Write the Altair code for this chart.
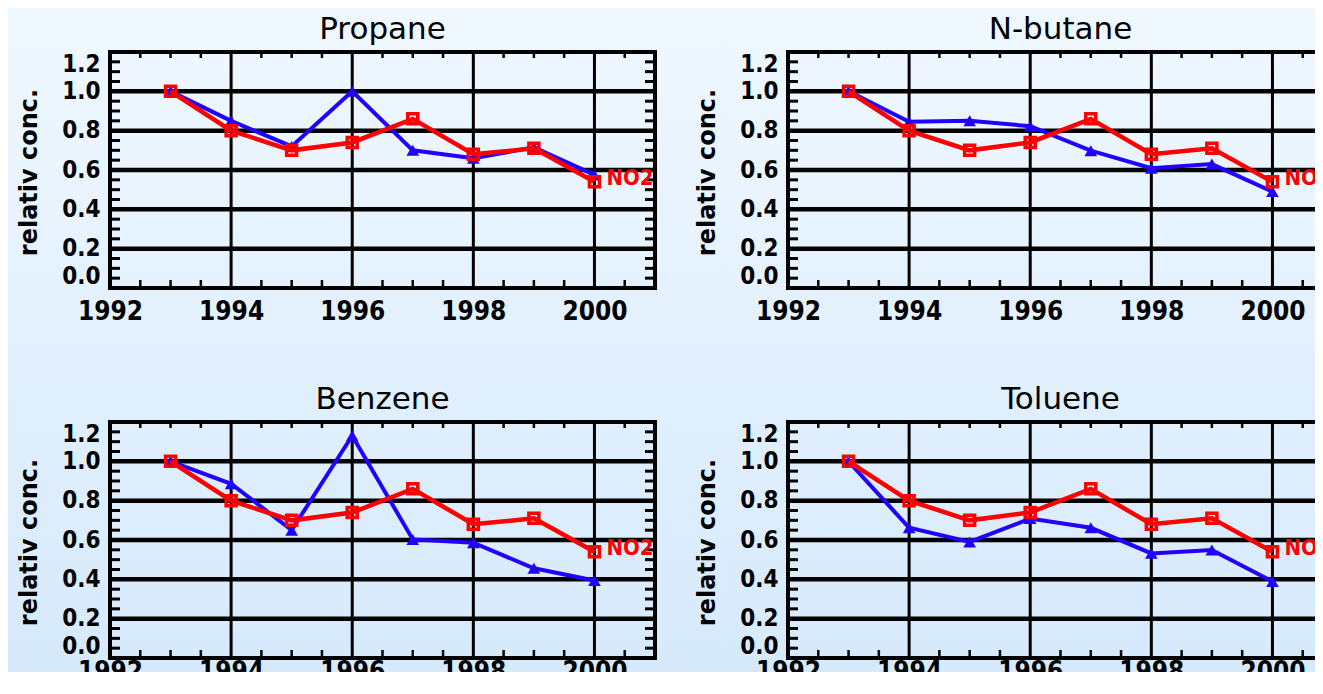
import altair as alt
import pandas as pd

# ---------------- data ----------------
years = [1993, 1994, 1995, 1996, 1997, 1998, 1999, 2000]
no2 = [1.00, 0.80, 0.70, 0.74, 0.86, 0.68, 0.71, 0.54]
propane = [1.00, 0.85, 0.72, 1.00, 0.70, 0.66, 0.715, 0.575]
nbutane = [1.00, 0.845, 0.85, 0.823, 0.698, 0.609, 0.63, 0.49]
benzene = [1.00, 0.886, 0.65, 1.13, 0.603, 0.586, 0.456, 0.394]
toluene = [1.00, 0.662, 0.59, 0.709, 0.662, 0.532, 0.549, 0.389]

panel_titles = ["Propane", "N-butane", "Benzene", "Toluene"]
no2_label = "NO2"
y_title = "relativ conc."

x_tick_labels = [1992, 1994, 1996, 1998, 2000]
y_tick_labels = [0.0, 0.2, 0.4, 0.6, 0.8, 1.0, 1.2]
x_grid = [1994, 1996, 1998, 2000]
y_grid = [0.2, 0.4, 0.6, 0.8, 1.0]
x_minor = [1992.5, 1993, 1993.5, 1994.5, 1995, 1995.5, 1996.5, 1997, 1997.5,
           1998.5, 1999, 1999.5, 2000.5]
y_minor = [0.05, 0.10, 0.15, 0.25, 0.30, 0.35, 0.45, 0.50, 0.55, 0.65, 0.70,
           0.75, 0.85, 0.90, 0.95, 1.05, 1.10, 1.15]

# ---------------- styling ----------------
BLUE = "#2200ff"
RED = "#ff0000"
LABEL_FONT = "DejaVu Sans Condensed"
TITLE_FONT = "DejaVu Sans"
NO2_FONT = "DejaVu Sans Condensed"
H = 236
W = 545

C_TOP = "#f0f8ff"
C_MID = "#e2f0fd"
C_BOT = "#d5e9fc"


def make_panel(title, series, bg_x, bg_y, stops, xpad):
    xs = alt.Scale(domain=[1992, 2001], nice=False, zero=False)
    ys = alt.Scale(domain=[0, 1.2], nice=False, zero=False)
    x_axis = alt.Axis(values=x_tick_labels, format="d", labelFont=LABEL_FONT,
                      labelFontSize=26, labelFontWeight="bold", labelColor="black",
                      labelPadding=xpad, ticks=False, tickSize=0, domain=False,
                      grid=False, labelFlush=False, labelOverlap=False, title=None,
                      zindex=1)
    y_axis = alt.Axis(values=y_tick_labels, format=".1f", labelFont=LABEL_FONT,
                      labelFontSize=24, labelFontWeight="bold", labelColor="black",
                      labelPadding=10, ticks=False, tickSize=0, domain=False,
                      grid=False, labelFlush=True, labelOverlap=False,
                      title=y_title, titleFont=TITLE_FONT, titleFontSize=24,
                      titleFontWeight="bold", titleColor="black", titleAngle=270,
                      titleX=-74, titleY=H / 2 + 2, titleAlign="center",
                      titleBaseline="alphabetic", zindex=1)

    one = pd.DataFrame({"k": [0]})
    bg = alt.Chart(one).mark_rect(
        color=alt.LinearGradient(
            gradient="linear",
            stops=[alt.GradientStop(color=stops[0], offset=0),
                   alt.GradientStop(color=stops[1], offset=1)],
            x1=0, x2=0, y1=0, y2=1)
    ).encode(x=alt.value(bg_x[0]), x2=alt.value(bg_x[1]),
             y=alt.value(bg_y[0]), y2=alt.value(bg_y[1]))

    title_mark = alt.Chart(pd.DataFrame({"t": [title]})).mark_text(
        font=TITLE_FONT, fontSize=31, color="black", align="center",
        baseline="alphabetic").encode(
        text="t:N", x=alt.value(W / 2), y=alt.value(-13))

    hgrid = alt.Chart(pd.DataFrame({"v": y_grid})).mark_rule(
        color="black", strokeWidth=4.5).encode(
        y=alt.Y("v:Q", scale=ys, axis=y_axis))
    vgrid = alt.Chart(pd.DataFrame({"v": x_grid})).mark_rule(
        color="black", strokeWidth=3).encode(
        x=alt.X("v:Q", scale=xs, axis=x_axis))

    ymin_df = pd.DataFrame({"v": y_minor})
    xmin_df = pd.DataFrame({"v": x_minor})
    layers = [bg, title_mark, hgrid, vgrid]
    layers.append(alt.Chart(ymin_df).mark_rule(color="black", strokeWidth=3).encode(
        y=alt.Y("v:Q", scale=ys, axis=y_axis), x=alt.value(0), x2=alt.value(10)))
    layers.append(alt.Chart(ymin_df).mark_rule(color="black", strokeWidth=3).encode(
        y=alt.Y("v:Q", scale=ys, axis=y_axis), x=alt.value(W - 10), x2=alt.value(W)))
    layers.append(alt.Chart(xmin_df).mark_rule(color="black", strokeWidth=2.5).encode(
        x=alt.X("v:Q", scale=xs, axis=x_axis), y=alt.value(0), y2=alt.value(6)))
    layers.append(alt.Chart(xmin_df).mark_rule(color="black", strokeWidth=2.5).encode(
        x=alt.X("v:Q", scale=xs, axis=x_axis), y=alt.value(H - 8), y2=alt.value(H)))

    df_b = pd.DataFrame({"year": years, "value": series})
    df_r = pd.DataFrame({"year": years, "value": no2})
    enc = dict(x=alt.X("year:Q", scale=xs, axis=x_axis),
               y=alt.Y("value:Q", scale=ys, axis=y_axis))

    layers.append(alt.Chart(df_b).mark_line(color=BLUE, strokeWidth=4).encode(**enc))
    layers.append(alt.Chart(df_b).mark_point(shape="triangle-up", filled=True,
                                             color=BLUE, size=160, opacity=1).encode(**enc))
    layers.append(alt.Chart(df_r).mark_line(color=RED, strokeWidth=4.5).encode(**enc))
    layers.append(alt.Chart(df_r).mark_point(shape="square", filled=False, color=RED,
                                             size=100, strokeWidth=3.5, opacity=1).encode(**enc))
    layers.append(alt.Chart(df_r).transform_filter(alt.datum.year == 2000).mark_text(
        text=no2_label, color=RED, font=NO2_FONT, fontSize=22, fontWeight="bold",
        align="left", baseline="alphabetic", dx=12, dy=3, clip=True).encode(**enc))
    layers.append(alt.Chart(one).mark_rect(filled=False, color="black", strokeWidth=4,
                                           fillOpacity=0).encode(
        x=alt.value(0), x2=alt.value(W), y=alt.value(0), y2=alt.value(H)))

    return alt.layer(*layers).properties(width=W, height=H)


p1 = make_panel(panel_titles[0], propane, (-102, 611.5), (-44, 303), (C_TOP, C_MID), 10)
p2 = make_panel(panel_titles[1], nbutane, (-66.5, 560), (-44, 303), (C_TOP, C_MID), 10)
p3 = make_panel(panel_titles[2], benzene, (-102, 611.5), (-67, 288), (C_MID, C_BOT), 0)
p4 = make_panel(panel_titles[3], toluene, (-66.5, 560), (-67, 288), (C_MID, C_BOT), 0)

chart = alt.concat(p1, p2, p3, p4, columns=2).properties(
    spacing={"row": 134, "column": 133},
    bounds="flush",
    padding={"top": 0, "left": 0, "right": -33, "bottom": -38},
    background=C_MID,
).configure_view(strokeWidth=0)

chart.save("out.html", embed_options={"renderer": "svg", "actions": False})
